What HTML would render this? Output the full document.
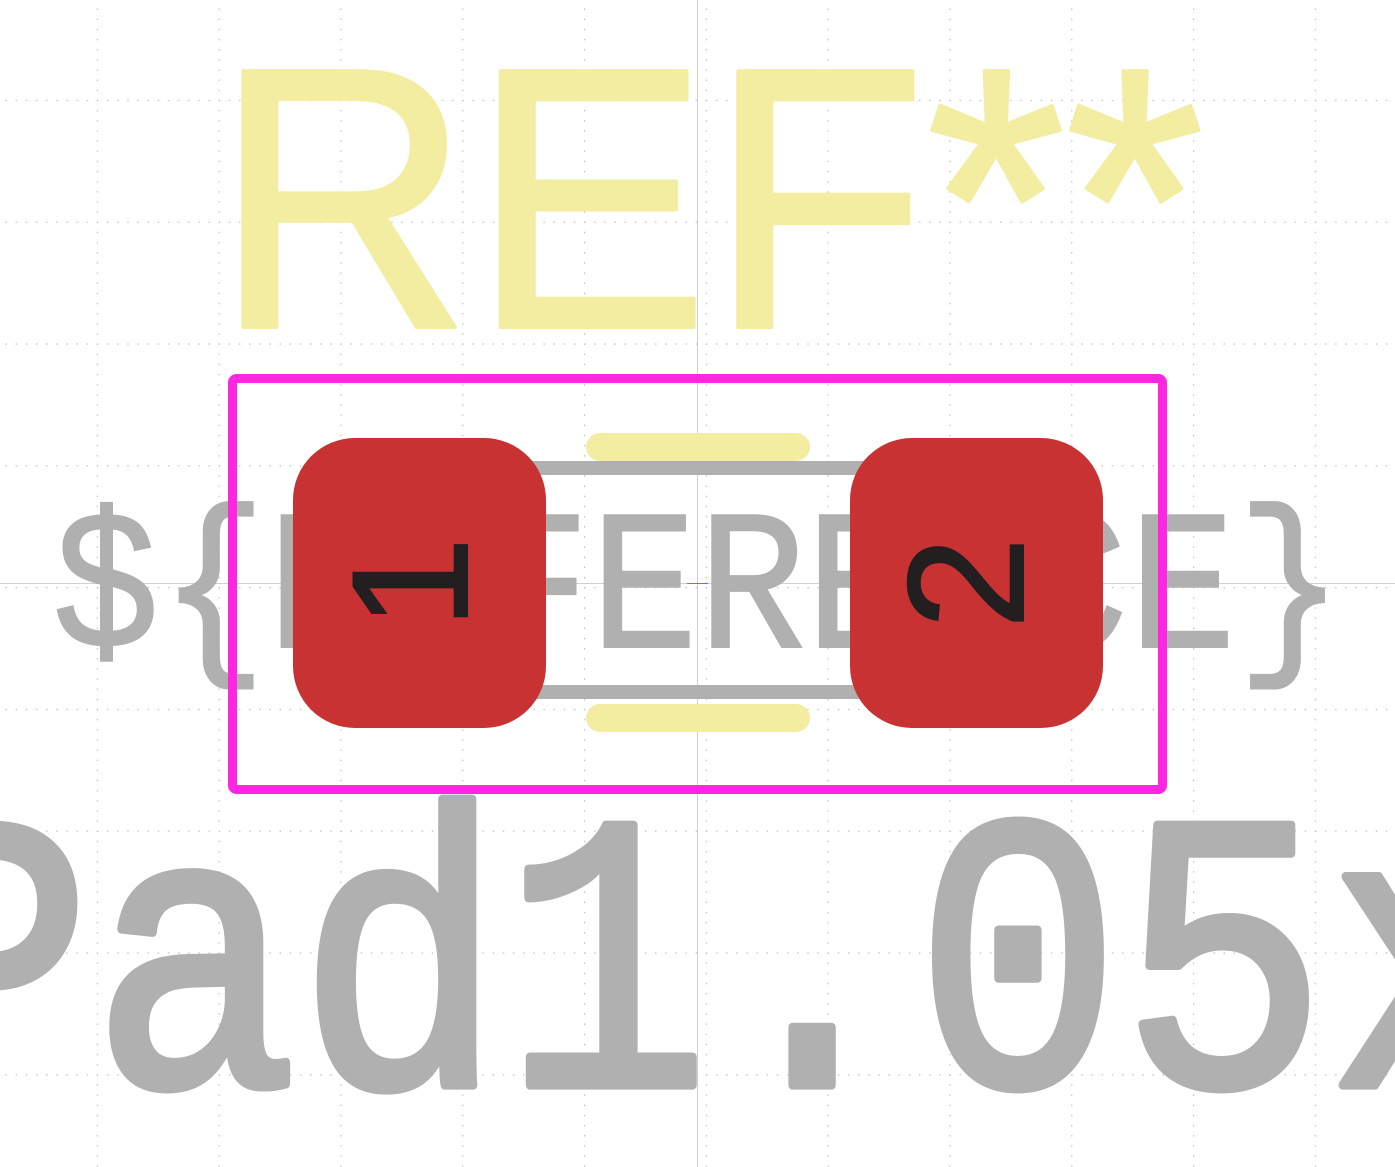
<!DOCTYPE html>
<html><head><meta charset="utf-8"><style>
html,body{margin:0;padding:0;background:#fff;overflow:hidden}
svg{display:block}
</style></head><body>
<svg width="1395" height="1167" viewBox="0 0 1395 1167" xmlns="http://www.w3.org/2000/svg">
<defs>
<pattern id="g" x="-25" y="-22" width="121.8" height="121.8" patternUnits="userSpaceOnUse">
<line x1="0" y1="0.5" x2="121.8" y2="0.5" stroke="#c0c0c0" stroke-width="1.4" stroke-dasharray="1.5 8.65"/>
<line x1="0.5" y1="0" x2="0.5" y2="121.8" stroke="#c0c0c0" stroke-width="1.4" stroke-dasharray="1.5 8.65"/>
</pattern>
</defs>
<rect width="1395" height="1167" fill="#fff"/>
<rect width="1395" height="1167" fill="url(#g)"/>
<line x1="697.5" y1="0" x2="697.5" y2="1167" stroke="#d0d0d0" stroke-width="1"/>
<line x1="0" y1="583.5" x2="1395" y2="583.5" stroke="#d0d0d0" stroke-width="1"/>

<text x="214" y="327" font-family="Liberation Sans, sans-serif" font-size="372" fill="#f2eda1" stroke="#f2eda1" stroke-width="4" stroke-linejoin="round" textLength="990" lengthAdjust="spacingAndGlyphs">REF**</text>

<text x="52" y="647" font-family="Liberation Mono, monospace" font-size="200" fill="#b0b0b0" stroke="#b0b0b0" stroke-width="2" textLength="1292" lengthAdjust="spacingAndGlyphs">${REFERENCE}</text>

<rect x="533" y="468" width="333" height="224" fill="none" stroke="#b0b0b0" stroke-width="14"/>
<line x1="600" y1="447" x2="796" y2="447" stroke="#f2eda1" stroke-width="28" stroke-linecap="round"/>
<line x1="600" y1="718" x2="796" y2="718" stroke="#f2eda1" stroke-width="28" stroke-linecap="round"/>

<rect x="232.5" y="378.5" width="930" height="411" rx="4" fill="none" stroke="#ff26e2" stroke-width="9"/>

<rect x="293" y="438" width="253" height="290" rx="62" fill="#c83232"/>
<rect x="850" y="438" width="253" height="290" rx="62" fill="#c83232"/>
<g font-family="Liberation Sans, sans-serif" font-size="165" fill="#231f20" stroke="#231f20" stroke-width="2">
<text transform="translate(410,583) rotate(-90)" text-anchor="middle" dominant-baseline="central">1</text>
<text transform="translate(966,583) rotate(-90)" text-anchor="middle" dominant-baseline="central">2</text>
</g>

<text transform="translate(-114,1085) scale(1,1.15)" x="0" y="0" font-family="Liberation Mono, monospace" font-size="343" fill="#b0b0b0" stroke="#b0b0b0" stroke-width="8" stroke-linejoin="round">Pad1.05x</text>

<line x1="687" y1="583.5" x2="708" y2="583.5" stroke="#ff26e2" stroke-width="1"/>
</svg>
</body></html>
